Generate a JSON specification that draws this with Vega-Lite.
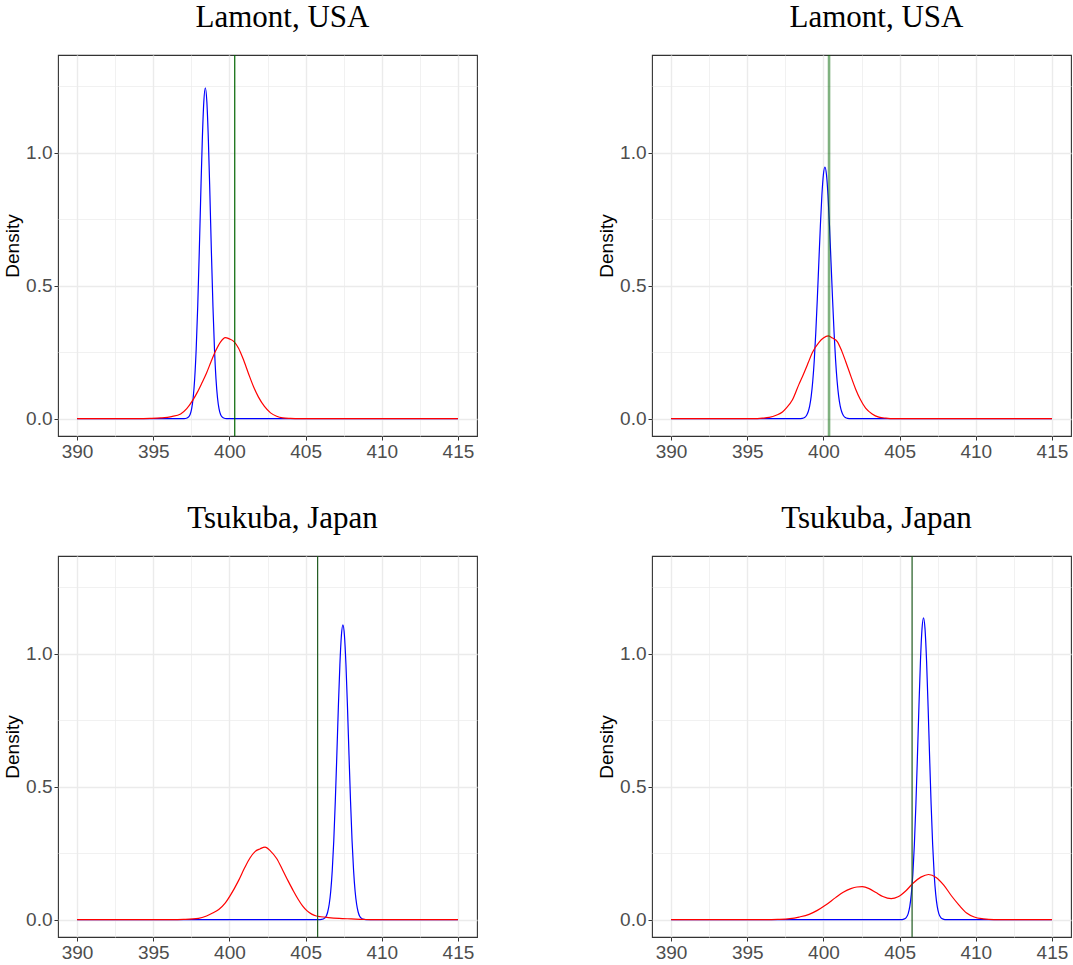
{
  "$schema": "https://vega.github.io/schema/vega-lite/v6.json",
  "padding": {"left": 3, "top": 1, "right": 0, "bottom": 0},
  "background": "white",
  "datasets": {
    "curves": [
      {"p":1,"s":"b","x":390,"y":0},{"p":1,"s":"b","x":396.62,"y":0},{"p":1,"s":"b","x":397.02,"y":0.0003},{"p":1,"s":"b","x":397.22,"y":0.0025},{"p":1,"s":"b","x":397.32,"y":0.0066},{"p":1,"s":"b","x":397.42,"y":0.016},{"p":1,"s":"b","x":397.52,"y":0.037},{"p":1,"s":"b","x":397.62,"y":0.078},{"p":1,"s":"b","x":397.72,"y":0.149},{"p":1,"s":"b","x":397.82,"y":0.262},{"p":1,"s":"b","x":397.92,"y":0.422},{"p":1,"s":"b","x":398.02,"y":0.623},{"p":1,"s":"b","x":398.12,"y":0.843},{"p":1,"s":"b","x":398.22,"y":1.046},{"p":1,"s":"b","x":398.32,"y":1.191},{"p":1,"s":"b","x":398.42,"y":1.244},{"p":1,"s":"b","x":398.52,"y":1.191},{"p":1,"s":"b","x":398.62,"y":1.046},{"p":1,"s":"b","x":398.72,"y":0.843},{"p":1,"s":"b","x":398.82,"y":0.623},{"p":1,"s":"b","x":398.92,"y":0.422},{"p":1,"s":"b","x":399.02,"y":0.262},{"p":1,"s":"b","x":399.12,"y":0.149},{"p":1,"s":"b","x":399.22,"y":0.078},{"p":1,"s":"b","x":399.32,"y":0.037},{"p":1,"s":"b","x":399.42,"y":0.016},{"p":1,"s":"b","x":399.52,"y":0.0066},{"p":1,"s":"b","x":399.62,"y":0.0025},{"p":1,"s":"b","x":399.82,"y":0.0003},{"p":1,"s":"b","x":400.22,"y":0},{"p":1,"s":"b","x":415,"y":0},

      {"p":1,"s":"r","x":390,"y":0},{"p":1,"s":"r","x":394.0,"y":0},{"p":1,"s":"r","x":394.8,"y":0.001},{"p":1,"s":"r","x":395.5,"y":0.003},{"p":1,"s":"r","x":396.2,"y":0.008},{"p":1,"s":"r","x":396.8,"y":0.018},{"p":1,"s":"r","x":397.2,"y":0.038},{"p":1,"s":"r","x":397.6,"y":0.07},{"p":1,"s":"r","x":397.9,"y":0.1},{"p":1,"s":"r","x":398.2,"y":0.135},{"p":1,"s":"r","x":398.5,"y":0.172},{"p":1,"s":"r","x":398.8,"y":0.215},{"p":1,"s":"r","x":399.1,"y":0.255},{"p":1,"s":"r","x":399.4,"y":0.287},{"p":1,"s":"r","x":399.73,"y":0.305},{"p":1,"s":"r","x":400.0,"y":0.3},{"p":1,"s":"r","x":400.3,"y":0.29},{"p":1,"s":"r","x":400.6,"y":0.265},{"p":1,"s":"r","x":400.9,"y":0.225},{"p":1,"s":"r","x":401.25,"y":0.17},{"p":1,"s":"r","x":401.6,"y":0.118},{"p":1,"s":"r","x":401.9,"y":0.082},{"p":1,"s":"r","x":402.3,"y":0.046},{"p":1,"s":"r","x":402.7,"y":0.022},{"p":1,"s":"r","x":403.1,"y":0.009},{"p":1,"s":"r","x":403.5,"y":0.003},{"p":1,"s":"r","x":404.0,"y":0.001},{"p":1,"s":"r","x":404.6,"y":0},{"p":1,"s":"r","x":415,"y":0},

      {"p":2,"s":"b","x":390,"y":0},{"p":2,"s":"b","x":398.3,"y":0},{"p":2,"s":"b","x":398.5,"y":0.0005},{"p":2,"s":"b","x":398.7,"y":0.0028},{"p":2,"s":"b","x":398.8,"y":0.006},{"p":2,"s":"b","x":398.9,"y":0.013},{"p":2,"s":"b","x":399.0,"y":0.026},{"p":2,"s":"b","x":399.1,"y":0.048},{"p":2,"s":"b","x":399.2,"y":0.085},{"p":2,"s":"b","x":399.3,"y":0.141},{"p":2,"s":"b","x":399.4,"y":0.22},{"p":2,"s":"b","x":399.5,"y":0.324},{"p":2,"s":"b","x":399.6,"y":0.45},{"p":2,"s":"b","x":399.7,"y":0.588},{"p":2,"s":"b","x":399.8,"y":0.724},{"p":2,"s":"b","x":399.9,"y":0.84},{"p":2,"s":"b","x":400.0,"y":0.918},{"p":2,"s":"b","x":400.1,"y":0.946},{"p":2,"s":"b","x":400.2,"y":0.918},{"p":2,"s":"b","x":400.3,"y":0.84},{"p":2,"s":"b","x":400.4,"y":0.724},{"p":2,"s":"b","x":400.5,"y":0.588},{"p":2,"s":"b","x":400.6,"y":0.45},{"p":2,"s":"b","x":400.7,"y":0.324},{"p":2,"s":"b","x":400.8,"y":0.22},{"p":2,"s":"b","x":400.9,"y":0.141},{"p":2,"s":"b","x":401.0,"y":0.085},{"p":2,"s":"b","x":401.1,"y":0.048},{"p":2,"s":"b","x":401.2,"y":0.026},{"p":2,"s":"b","x":401.3,"y":0.013},{"p":2,"s":"b","x":401.4,"y":0.006},{"p":2,"s":"b","x":401.5,"y":0.0028},{"p":2,"s":"b","x":401.7,"y":0.0005},{"p":2,"s":"b","x":401.9,"y":0},{"p":2,"s":"b","x":415,"y":0},

      {"p":2,"s":"r","x":390,"y":0},{"p":2,"s":"r","x":395.4,"y":0},{"p":2,"s":"r","x":396.0,"y":0.002},{"p":2,"s":"r","x":396.44,"y":0.005},{"p":2,"s":"r","x":396.9,"y":0.013},{"p":2,"s":"r","x":397.31,"y":0.025},{"p":2,"s":"r","x":397.53,"y":0.038},{"p":2,"s":"r","x":397.96,"y":0.07},{"p":2,"s":"r","x":398.4,"y":0.13},{"p":2,"s":"r","x":398.62,"y":0.158},{"p":2,"s":"r","x":399.0,"y":0.21},{"p":2,"s":"r","x":399.27,"y":0.248},{"p":2,"s":"r","x":399.71,"y":0.287},{"p":2,"s":"r","x":400.0,"y":0.303},{"p":2,"s":"r","x":400.32,"y":0.311},{"p":2,"s":"r","x":400.6,"y":0.303},{"p":2,"s":"r","x":400.91,"y":0.29},{"p":2,"s":"r","x":401.2,"y":0.255},{"p":2,"s":"r","x":401.46,"y":0.215},{"p":2,"s":"r","x":401.8,"y":0.16},{"p":2,"s":"r","x":402.11,"y":0.112},{"p":2,"s":"r","x":402.4,"y":0.075},{"p":2,"s":"r","x":402.77,"y":0.04},{"p":2,"s":"r","x":403.2,"y":0.018},{"p":2,"s":"r","x":403.64,"y":0.006},{"p":2,"s":"r","x":404.1,"y":0.002},{"p":2,"s":"r","x":404.6,"y":0},{"p":2,"s":"r","x":415,"y":0},

      {"p":3,"s":"b","x":390,"y":0},{"p":3,"s":"b","x":405.85,"y":0},{"p":3,"s":"b","x":406.05,"y":0.0009},{"p":3,"s":"b","x":406.25,"y":0.006},{"p":3,"s":"b","x":406.35,"y":0.013},{"p":3,"s":"b","x":406.45,"y":0.029},{"p":3,"s":"b","x":406.55,"y":0.058},{"p":3,"s":"b","x":406.65,"y":0.107},{"p":3,"s":"b","x":406.75,"y":0.185},{"p":3,"s":"b","x":406.85,"y":0.297},{"p":3,"s":"b","x":406.95,"y":0.445},{"p":3,"s":"b","x":407.05,"y":0.618},{"p":3,"s":"b","x":407.15,"y":0.798},{"p":3,"s":"b","x":407.25,"y":0.957},{"p":3,"s":"b","x":407.35,"y":1.068},{"p":3,"s":"b","x":407.45,"y":1.108},{"p":3,"s":"b","x":407.55,"y":1.068},{"p":3,"s":"b","x":407.65,"y":0.957},{"p":3,"s":"b","x":407.75,"y":0.798},{"p":3,"s":"b","x":407.85,"y":0.618},{"p":3,"s":"b","x":407.95,"y":0.445},{"p":3,"s":"b","x":408.05,"y":0.297},{"p":3,"s":"b","x":408.15,"y":0.185},{"p":3,"s":"b","x":408.25,"y":0.107},{"p":3,"s":"b","x":408.35,"y":0.058},{"p":3,"s":"b","x":408.45,"y":0.029},{"p":3,"s":"b","x":408.55,"y":0.013},{"p":3,"s":"b","x":408.65,"y":0.006},{"p":3,"s":"b","x":408.85,"y":0.0009},{"p":3,"s":"b","x":409.05,"y":0},{"p":3,"s":"b","x":415,"y":0},

      {"p":3,"s":"r","x":390,"y":0},{"p":3,"s":"r","x":396.2,"y":0},{"p":3,"s":"r","x":397.0,"y":0.001},{"p":3,"s":"r","x":397.97,"y":0.005},{"p":3,"s":"r","x":398.5,"y":0.014},{"p":3,"s":"r","x":398.9,"y":0.025},{"p":3,"s":"r","x":399.3,"y":0.038},{"p":3,"s":"r","x":399.72,"y":0.062},{"p":3,"s":"r","x":400.1,"y":0.095},{"p":3,"s":"r","x":400.59,"y":0.146},{"p":3,"s":"r","x":401.0,"y":0.195},{"p":3,"s":"r","x":401.35,"y":0.232},{"p":3,"s":"r","x":401.68,"y":0.256},{"p":3,"s":"r","x":402.0,"y":0.266},{"p":3,"s":"r","x":402.34,"y":0.273},{"p":3,"s":"r","x":402.7,"y":0.258},{"p":3,"s":"r","x":403.1,"y":0.23},{"p":3,"s":"r","x":403.5,"y":0.186},{"p":3,"s":"r","x":403.86,"y":0.145},{"p":3,"s":"r","x":404.2,"y":0.108},{"p":3,"s":"r","x":404.5,"y":0.078},{"p":3,"s":"r","x":404.8,"y":0.052},{"p":3,"s":"r","x":405.1,"y":0.033},{"p":3,"s":"r","x":405.4,"y":0.021},{"p":3,"s":"r","x":405.7,"y":0.014},{"p":3,"s":"r","x":406.0,"y":0.011},{"p":3,"s":"r","x":406.5,"y":0.008},{"p":3,"s":"r","x":407.2,"y":0.005},{"p":3,"s":"r","x":408.0,"y":0.003},{"p":3,"s":"r","x":408.8,"y":0.001},{"p":3,"s":"r","x":409.5,"y":0},{"p":3,"s":"r","x":415,"y":0},

      {"p":4,"s":"b","x":390,"y":0},{"p":4,"s":"b","x":404.97,"y":0},{"p":4,"s":"b","x":405.17,"y":0.0006},{"p":4,"s":"b","x":405.37,"y":0.0044},{"p":4,"s":"b","x":405.47,"y":0.011},{"p":4,"s":"b","x":405.57,"y":0.024},{"p":4,"s":"b","x":405.67,"y":0.05},{"p":4,"s":"b","x":405.77,"y":0.096},{"p":4,"s":"b","x":405.87,"y":0.171},{"p":4,"s":"b","x":405.97,"y":0.283},{"p":4,"s":"b","x":406.07,"y":0.433},{"p":4,"s":"b","x":406.17,"y":0.612},{"p":4,"s":"b","x":406.27,"y":0.802},{"p":4,"s":"b","x":406.37,"y":0.973},{"p":4,"s":"b","x":406.47,"y":1.092},{"p":4,"s":"b","x":406.57,"y":1.135},{"p":4,"s":"b","x":406.67,"y":1.092},{"p":4,"s":"b","x":406.77,"y":0.973},{"p":4,"s":"b","x":406.87,"y":0.802},{"p":4,"s":"b","x":406.97,"y":0.612},{"p":4,"s":"b","x":407.07,"y":0.433},{"p":4,"s":"b","x":407.17,"y":0.283},{"p":4,"s":"b","x":407.27,"y":0.171},{"p":4,"s":"b","x":407.37,"y":0.096},{"p":4,"s":"b","x":407.47,"y":0.05},{"p":4,"s":"b","x":407.57,"y":0.024},{"p":4,"s":"b","x":407.67,"y":0.011},{"p":4,"s":"b","x":407.77,"y":0.0044},{"p":4,"s":"b","x":407.97,"y":0.0006},{"p":4,"s":"b","x":408.17,"y":0},{"p":4,"s":"b","x":415,"y":0},

      {"p":4,"s":"r","x":390,"y":0},{"p":4,"s":"r","x":396.2,"y":0},{"p":4,"s":"r","x":397.0,"y":0.001},{"p":4,"s":"r","x":397.8,"y":0.004},{"p":4,"s":"r","x":398.4,"y":0.01},{"p":4,"s":"r","x":399.06,"y":0.02},{"p":4,"s":"r","x":399.6,"y":0.035},{"p":4,"s":"r","x":400.15,"y":0.055},{"p":4,"s":"r","x":400.8,"y":0.083},{"p":4,"s":"r","x":401.3,"y":0.103},{"p":4,"s":"r","x":401.8,"y":0.117},{"p":4,"s":"r","x":402.2,"y":0.123},{"p":4,"s":"r","x":402.55,"y":0.124},{"p":4,"s":"r","x":403.0,"y":0.117},{"p":4,"s":"r","x":403.45,"y":0.102},{"p":4,"s":"r","x":403.9,"y":0.087},{"p":4,"s":"r","x":404.45,"y":0.079},{"p":4,"s":"r","x":404.9,"y":0.086},{"p":4,"s":"r","x":405.4,"y":0.108},{"p":4,"s":"r","x":405.9,"y":0.138},{"p":4,"s":"r","x":406.4,"y":0.16},{"p":4,"s":"r","x":406.9,"y":0.17},{"p":4,"s":"r","x":407.4,"y":0.159},{"p":4,"s":"r","x":407.9,"y":0.13},{"p":4,"s":"r","x":408.4,"y":0.09},{"p":4,"s":"r","x":408.9,"y":0.055},{"p":4,"s":"r","x":409.4,"y":0.025},{"p":4,"s":"r","x":409.9,"y":0.01},{"p":4,"s":"r","x":410.5,"y":0.003},{"p":4,"s":"r","x":411.2,"y":0},{"p":4,"s":"r","x":415,"y":0}
    ],
    "vlines": [
      {"p":1,"x":400.35},{"p":2,"x":400.37},{"p":3,"x":405.79},{"p":4,"x":405.82}
    ]
  },
  "columns": 2,
  "spacing": {"column": 119, "row": 40},
  "concat": [
    {
      "title": "Lamont, USA",
      "width": 419, "height": 381,
      "layer": [
        {"data": {"name": "curves"}, "transform": [{"filter": "datum.p === 1 && datum.s === 'b'"}],
         "mark": {"type": "line", "color": "#0000ff", "strokeWidth": 1.2, "interpolate": "monotone"},
         "encoding": {
           "x": {"field": "x", "type": "quantitative", "scale": {"domain": [388.75, 416.25], "nice": false, "zero": false},
                 "axis": {"title": null, "values": [390,392.5,395,397.5,400,402.5,405,407.5,410,412.5,415], "labelExpr": "datum.value % 5 === 0 ? format(datum.value, 'd') : ''", "labelOverlap": false, "labelFlush": false, "gridColor": "#ebebeb", "gridWidth": {"condition": {"test": "datum.value % 5 === 0", "value": 1.4}, "value": 0.7}, "tickOpacity": {"condition": {"test": "datum.value % 5 === 0", "value": 1}, "value": 0}}},
           "y": {"field": "y", "type": "quantitative", "scale": {"domain": [-0.065, 1.367], "nice": false, "zero": false},
                 "axis": {"title": "Density", "values": [0,0.25,0.5,0.75,1,1.25], "labelExpr": "(datum.value * 2) % 1 === 0 ? format(datum.value, '.1f') : ''", "labelOverlap": false, "labelFlush": false, "gridColor": "#ebebeb", "gridWidth": {"condition": {"test": "(datum.value * 2) % 1 === 0", "value": 1.4}, "value": 0.7}, "tickOpacity": {"condition": {"test": "(datum.value * 2) % 1 === 0", "value": 1}, "value": 0}}}
         }},
        {"data": {"name": "curves"}, "transform": [{"filter": "datum.p === 1 && datum.s === 'r'"}],
         "mark": {"type": "line", "color": "#ff0000", "strokeWidth": 1.2, "interpolate": "monotone"},
         "encoding": {"x": {"field": "x", "type": "quantitative"}, "y": {"field": "y", "type": "quantitative"}}},
        {"data": {"name": "vlines"}, "transform": [{"filter": "datum.p === 1"}],
         "mark": {"type": "rule", "color": "#006400", "strokeWidth": 1.2},
         "encoding": {"x": {"field": "x", "type": "quantitative"}}}
      ]
    },
    {
      "title": "Lamont, USA",
      "width": 419, "height": 381,
      "layer": [
        {"data": {"name": "curves"}, "transform": [{"filter": "datum.p === 2 && datum.s === 'b'"}],
         "mark": {"type": "line", "color": "#0000ff", "strokeWidth": 1.2, "interpolate": "monotone"},
         "encoding": {
           "x": {"field": "x", "type": "quantitative", "scale": {"domain": [388.75, 416.25], "nice": false, "zero": false},
                 "axis": {"title": null, "values": [390,392.5,395,397.5,400,402.5,405,407.5,410,412.5,415], "labelExpr": "datum.value % 5 === 0 ? format(datum.value, 'd') : ''", "labelOverlap": false, "labelFlush": false, "gridColor": "#ebebeb", "gridWidth": {"condition": {"test": "datum.value % 5 === 0", "value": 1.4}, "value": 0.7}, "tickOpacity": {"condition": {"test": "datum.value % 5 === 0", "value": 1}, "value": 0}}},
           "y": {"field": "y", "type": "quantitative", "scale": {"domain": [-0.065, 1.367], "nice": false, "zero": false},
                 "axis": {"title": "Density", "values": [0,0.25,0.5,0.75,1,1.25], "labelExpr": "(datum.value * 2) % 1 === 0 ? format(datum.value, '.1f') : ''", "labelOverlap": false, "labelFlush": false, "gridColor": "#ebebeb", "gridWidth": {"condition": {"test": "(datum.value * 2) % 1 === 0", "value": 1.4}, "value": 0.7}, "tickOpacity": {"condition": {"test": "(datum.value * 2) % 1 === 0", "value": 1}, "value": 0}}}
         }},
        {"data": {"name": "curves"}, "transform": [{"filter": "datum.p === 2 && datum.s === 'r'"}],
         "mark": {"type": "line", "color": "#ff0000", "strokeWidth": 1.2, "interpolate": "monotone"},
         "encoding": {"x": {"field": "x", "type": "quantitative"}, "y": {"field": "y", "type": "quantitative"}}},
        {"data": {"name": "vlines"}, "transform": [{"filter": "datum.p === 2"}],
         "mark": {"type": "rule", "color": "#006400", "strokeWidth": 2.6, "opacity": 0.5},
         "encoding": {"x": {"field": "x", "type": "quantitative"}}}
      ]
    },
    {
      "title": "Tsukuba, Japan",
      "width": 419, "height": 381,
      "layer": [
        {"data": {"name": "curves"}, "transform": [{"filter": "datum.p === 3 && datum.s === 'b'"}],
         "mark": {"type": "line", "color": "#0000ff", "strokeWidth": 1.2, "interpolate": "monotone"},
         "encoding": {
           "x": {"field": "x", "type": "quantitative", "scale": {"domain": [388.75, 416.25], "nice": false, "zero": false},
                 "axis": {"title": null, "values": [390,392.5,395,397.5,400,402.5,405,407.5,410,412.5,415], "labelExpr": "datum.value % 5 === 0 ? format(datum.value, 'd') : ''", "labelOverlap": false, "labelFlush": false, "gridColor": "#ebebeb", "gridWidth": {"condition": {"test": "datum.value % 5 === 0", "value": 1.4}, "value": 0.7}, "tickOpacity": {"condition": {"test": "datum.value % 5 === 0", "value": 1}, "value": 0}}},
           "y": {"field": "y", "type": "quantitative", "scale": {"domain": [-0.065, 1.367], "nice": false, "zero": false},
                 "axis": {"title": "Density", "values": [0,0.25,0.5,0.75,1,1.25], "labelExpr": "(datum.value * 2) % 1 === 0 ? format(datum.value, '.1f') : ''", "labelOverlap": false, "labelFlush": false, "gridColor": "#ebebeb", "gridWidth": {"condition": {"test": "(datum.value * 2) % 1 === 0", "value": 1.4}, "value": 0.7}, "tickOpacity": {"condition": {"test": "(datum.value * 2) % 1 === 0", "value": 1}, "value": 0}}}
         }},
        {"data": {"name": "curves"}, "transform": [{"filter": "datum.p === 3 && datum.s === 'r'"}],
         "mark": {"type": "line", "color": "#ff0000", "strokeWidth": 1.2, "interpolate": "monotone"},
         "encoding": {"x": {"field": "x", "type": "quantitative"}, "y": {"field": "y", "type": "quantitative"}}},
        {"data": {"name": "vlines"}, "transform": [{"filter": "datum.p === 3"}],
         "mark": {"type": "rule", "color": "#1f5a1f", "strokeWidth": 1.2},
         "encoding": {"x": {"field": "x", "type": "quantitative"}}}
      ]
    },
    {
      "title": "Tsukuba, Japan",
      "width": 419, "height": 381,
      "layer": [
        {"data": {"name": "curves"}, "transform": [{"filter": "datum.p === 4 && datum.s === 'b'"}],
         "mark": {"type": "line", "color": "#0000ff", "strokeWidth": 1.2, "interpolate": "monotone"},
         "encoding": {
           "x": {"field": "x", "type": "quantitative", "scale": {"domain": [388.75, 416.25], "nice": false, "zero": false},
                 "axis": {"title": null, "values": [390,392.5,395,397.5,400,402.5,405,407.5,410,412.5,415], "labelExpr": "datum.value % 5 === 0 ? format(datum.value, 'd') : ''", "labelOverlap": false, "labelFlush": false, "gridColor": "#ebebeb", "gridWidth": {"condition": {"test": "datum.value % 5 === 0", "value": 1.4}, "value": 0.7}, "tickOpacity": {"condition": {"test": "datum.value % 5 === 0", "value": 1}, "value": 0}}},
           "y": {"field": "y", "type": "quantitative", "scale": {"domain": [-0.065, 1.367], "nice": false, "zero": false},
                 "axis": {"title": "Density", "values": [0,0.25,0.5,0.75,1,1.25], "labelExpr": "(datum.value * 2) % 1 === 0 ? format(datum.value, '.1f') : ''", "labelOverlap": false, "labelFlush": false, "gridColor": "#ebebeb", "gridWidth": {"condition": {"test": "(datum.value * 2) % 1 === 0", "value": 1.4}, "value": 0.7}, "tickOpacity": {"condition": {"test": "(datum.value * 2) % 1 === 0", "value": 1}, "value": 0}}}
         }},
        {"data": {"name": "curves"}, "transform": [{"filter": "datum.p === 4 && datum.s === 'r'"}],
         "mark": {"type": "line", "color": "#ff0000", "strokeWidth": 1.2, "interpolate": "monotone"},
         "encoding": {"x": {"field": "x", "type": "quantitative"}, "y": {"field": "y", "type": "quantitative"}}},
        {"data": {"name": "vlines"}, "transform": [{"filter": "datum.p === 4"}],
         "mark": {"type": "rule", "color": "#1f5a1f", "strokeWidth": 1.2},
         "encoding": {"x": {"field": "x", "type": "quantitative"}}}
      ]
    }
  ],
  "config": {
    "view": {"stroke": "#333333", "strokeWidth": 1.1},
    "axis": {"domain": false, "grid": true, "tickColor": "#333333", "tickSize": 4, "tickWidth": 1, "labelColor": "#4d4d4d", "labelFont": "Liberation Sans", "labelFontSize": 19, "labelPadding": 2, "titleFont": "Liberation Sans", "titleFontSize": 19, "titleFontWeight": "normal", "titleColor": "#000000", "titlePadding": 3},
    "title": {"font": "Liberation Serif", "fontSize": 31, "fontWeight": "normal", "color": "#000000", "offset": 20, "frame": "group", "anchor": "middle", "dx": 15}
  }
}
